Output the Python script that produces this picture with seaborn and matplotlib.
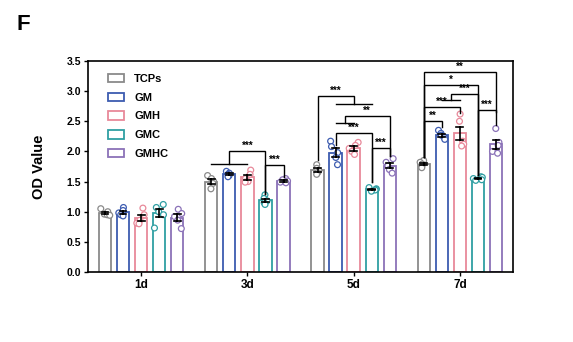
import numpy as np
import pandas as pd
import matplotlib
matplotlib.use('Agg')
import matplotlib.pyplot as plt
import seaborn as sns
from matplotlib.patches import Patch
from matplotlib.ticker import FormatStrFormatter

# ---------------- data ----------------
days = ['1d', '3d', '5d', '7d']
groups = ['TCPs', 'GM', 'GMH', 'GMC', 'GMHC']
colors = ['#8a8a8a', '#3d5cb0', '#e8899a', '#2f9fa3', '#8b72b8']

# individual replicate OD values, one list per day
tcps = [[1.05, 1.00, 0.96, 0.95, 0.94],
        [1.60, 1.55, 1.50, 1.47, 1.38],
        [1.78, 1.72, 1.68, 1.65, 1.62],
        [1.85, 1.82, 1.79, 1.76, 1.73]]
gm = [[1.07, 1.02, 0.98, 0.95, 0.93],
      [1.67, 1.64, 1.62, 1.60, 1.58],
      [2.17, 2.08, 1.98, 1.90, 1.78],
      [2.35, 2.30, 2.27, 2.23, 2.20]]
gmh = [[1.06, 0.95, 0.86, 0.81, 0.80],
       [1.69, 1.62, 1.55, 1.50, 1.49],
       [2.15, 2.10, 2.05, 2.00, 1.95],
       [2.62, 2.50, 2.17, 2.12, 2.09]]
gmc = [[1.12, 1.07, 1.00, 0.95, 0.73],
       [1.28, 1.22, 1.18, 1.15, 1.12],
       [1.40, 1.38, 1.37, 1.36, 1.34],
       [1.58, 1.57, 1.55, 1.53, 1.52]]
gmhc = [[1.04, 0.97, 0.92, 0.86, 0.72],
        [1.55, 1.53, 1.51, 1.49, 1.48],
        [1.88, 1.82, 1.76, 1.70, 1.64],
        [2.38, 2.15, 2.10, 2.00, 1.97]]

# significance brackets:
# (day index, left group idx, left end y, right group idx, right end y, top y, label)
brackets = [
    (1, [0, 1, 2], 1.79, [3], 1.30, 2.00, '***'),
    (1, [3], 1.30, [4], 1.58, 1.77, '***'),
    (2, [0], 1.86, [1, 2, 3], 2.79, 2.92, '***'),
    (2, [1, 2], 2.47, [4], 1.92, 2.59, '**'),
    (2, [1], 2.11, [3], 1.50, 2.30, '***'),
    (2, [3], 1.50, [4], 1.92, 2.05, '***'),
    (3, [0], 1.91, [4], 2.66, 3.31, '**'),
    (3, [0], 1.91, [3], 1.61, 3.10, '*'),
    (3, [1, 2], 2.86, [3], 1.61, 2.95, '***'),
    (3, [0], 1.91, [2], 2.63, 2.74, '***'),
    (3, [0], 1.91, [1], 2.41, 2.50, '**'),
    (3, [3], 1.61, [4], 2.44, 2.69, '***'),
]

# ---------------- table ----------------
rows = []
for g, series in zip(groups, [tcps, gm, gmh, gmc, gmhc]):
    for d, vals in zip(days, series):
        for v in vals:
            rows.append({'day': d, 'group': g, 'od': v})
df = pd.DataFrame(rows)

# ---------------- style ----------------
plt.rcParams['font.family'] = ['Liberation Sans', 'DejaVu Sans']
plt.rcParams['font.weight'] = 'bold'
plt.rcParams['axes.labelweight'] = 'bold'

GROUP_W = 0.85
step = GROUP_W / len(groups)

fig, ax = plt.subplots(figsize=(5.73, 3.42), dpi=100)
fig.subplots_adjust(left=88 / 573, right=513 / 573, bottom=1 - 272 / 342, top=1 - 61 / 342)

sns.barplot(data=df, x='day', y='od', hue='group', order=days, hue_order=groups,
            palette=colors, fill=False, width=GROUP_W, gap=0.32, errorbar='se',
            capsize=0.32, err_kws={'color': 'black', 'linewidth': 1.2},
            linewidth=1.3, legend=False, ax=ax)
err_lines = list(ax.lines)

np.random.seed(7)
sns.stripplot(data=df, x='day', y='od', hue='group', order=days, hue_order=groups,
              palette=colors, dodge=True, jitter=0.22, size=4.2, linewidth=0.9,
              legend=False, ax=ax)

for coll in ax.collections:
    fc = coll.get_facecolors()
    coll.set_edgecolors(fc)
    coll.set_facecolors('white')
    offs = coll.get_offsets()
    if len(offs):
        offs = np.array(offs)
        base = np.round(offs[:, 0])
        offs[:, 0] = base + (offs[:, 0] - base) * GROUP_W / 0.8
        coll.set_offsets(offs)
    coll.set_zorder(4)
for ln in err_lines:
    ln.set_zorder(5)

# ---------------- brackets ----------------
def side_x(day, idxs, y_end):
    xs = [day + (i - 2) * step for i in idxs]
    if len(xs) > 1:
        ax.plot([min(xs), max(xs)], [y_end, y_end], color='black', lw=1.0, zorder=6)
    return (min(xs) + max(xs)) / 2

for day, L, ly, R, ry, top, lab in brackets:
    xl = side_x(day, L, ly)
    xr = side_x(day, R, ry)
    ax.plot([xl, xl, xr, xr], [ly, top, top, ry], color='black', lw=1.0, zorder=6,
            solid_joinstyle='miter')
    ax.annotate(lab, ((xl + xr) / 2, top), xytext=(0, 0.2), textcoords='offset points',
                ha='center', va='bottom', fontsize=7, fontweight='bold')

# ---------------- axes ----------------
ax.set_ylim(0, 3.5)
ax.set_xlim(-0.5, 3.5)
ax.set_yticks(np.arange(0, 3.51, 0.5))
ax.yaxis.set_major_formatter(FormatStrFormatter('%.1f'))
ax.set_xlabel('')
ax.set_ylabel('OD Value', fontsize=10.5, labelpad=15)
ax.tick_params(axis='y', labelsize=7.5, length=3, width=1.0, pad=2)
ax.tick_params(axis='x', labelsize=8.5, length=3, width=1.0, pad=2)
for sp in ax.spines.values():
    sp.set_linewidth(1.2)
    sp.set_color('black')

handles = [Patch(facecolor='white', edgecolor=c, linewidth=1.3, label=g)
           for g, c in zip(groups, colors)]
ax.legend(handles=handles, loc='upper left', bbox_to_anchor=(0.047, 0.94),
          frameon=False, prop={'weight': 'bold', 'size': 8}, handlelength=1.4,
          handleheight=0.75, handletextpad=0.95, labelspacing=0.8,
          borderaxespad=0, borderpad=0)

fig.text(17 / 573, 1 - 14 / 342, 'F', fontsize=16, fontweight='bold', va='top', ha='left')

fig.savefig('out.png', dpi=100)
